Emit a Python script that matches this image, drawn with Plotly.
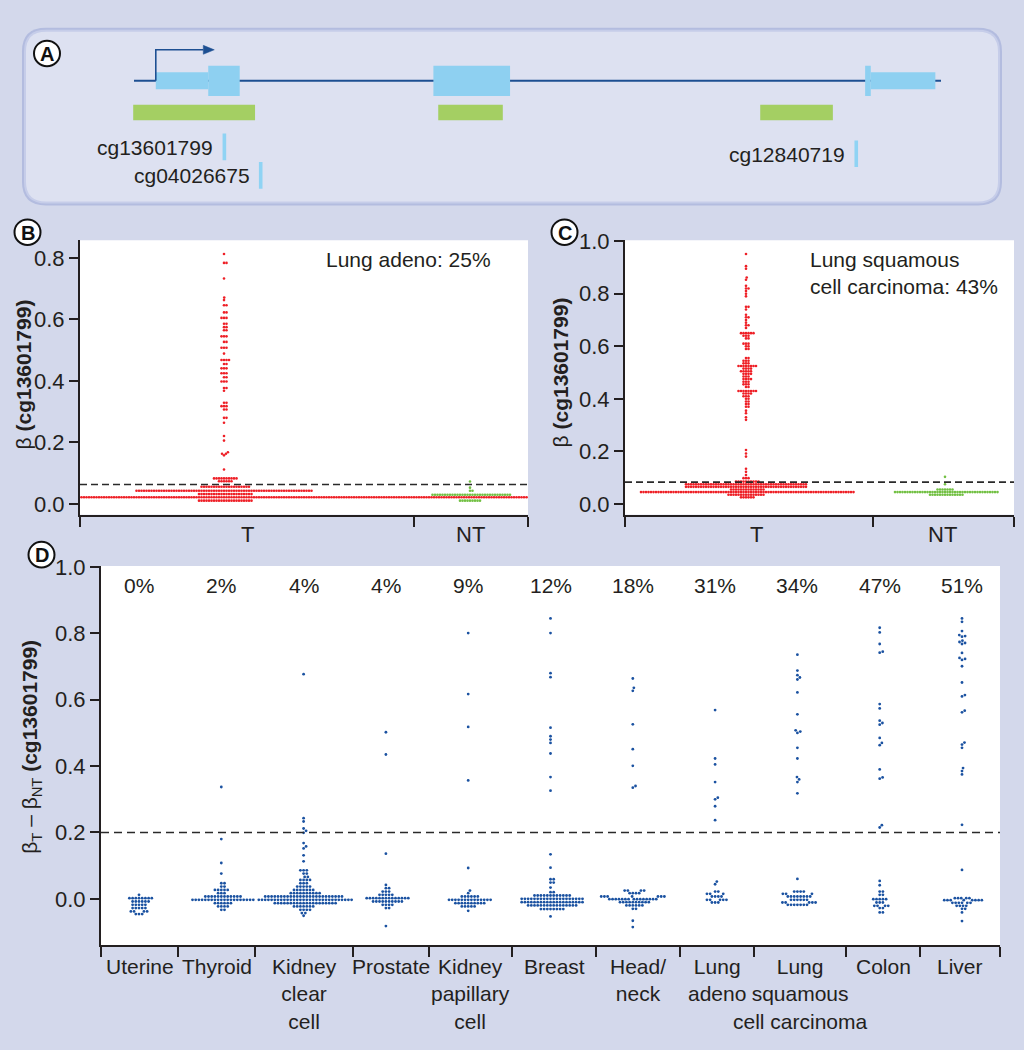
import math
import plotly.graph_objects as go

W, H = 1024, 1050

# ======================= DATA =======================
gene_span = [0.0, 100.0]
tss_position = 2.7
exon_starts = [2.7, 9.2, 37.1, 90.6, 91.3]
exon_ends = [9.2, 13.1, 46.6, 91.3, 99.3]
exon_kinds = ["utr", "cds", "cds", "cds", "utr"]
cpg_island_starts = [-0.1, 37.7, 77.6]
cpg_island_ends = [15.0, 45.7, 86.6]
probe_names = ["cg13601799", "cg04026675", "cg12840719"]
probe_positions = [11.2, 15.7, 89.5]

b_categories = ["T", "NT"]
b_tumor_high_values = [0.112, 0.158, 0.163, 0.168, 0.206, 0.221, 0.264, 0.280, 0.307, 0.318,
                       0.329, 0.368, 0.377, 0.398, 0.412, 0.425, 0.441, 0.455, 0.468, 0.489,
                       0.508, 0.527, 0.545, 0.565, 0.575, 0.586, 0.605, 0.623, 0.646, 0.663,
                       0.671, 0.733, 0.784, 0.813]
b_tumor_high_counts = [1, 1, 2, 1, 1, 1, 1, 2, 2, 3, 2, 1, 2, 3, 2, 3, 3, 2, 4, 1, 3, 2, 3, 2,
                       2, 2, 3, 2, 2, 1, 1, 1, 2, 1]
b_tumor_low_values = [0.0106, 0.0215, 0.032, 0.043, 0.056, 0.074, 0.083]
b_tumor_low_counts = [22, 250, 22, 71, 20, 6, 10]
b_normal_values = [0.0106, 0.030, 0.043, 0.053, 0.073]
b_normal_counts = [9, 32, 2, 1, 1]
b_threshold = 0.063
b_note = "Lung adeno: 25%"
b_yticks = [0.0, 0.2, 0.4, 0.6, 0.8]

c_categories = ["T", "NT"]
c_tumor_high_values = [0.110, 0.122, 0.134, 0.180, 0.192, 0.205, 0.320, 0.330, 0.345, 0.355,
                       0.370, 0.380, 0.390, 0.400, 0.410, 0.420, 0.430, 0.445, 0.455, 0.465,
                       0.475, 0.485, 0.495, 0.505, 0.515, 0.525, 0.535, 0.545, 0.555, 0.590,
                       0.600, 0.610, 0.630, 0.640, 0.650, 0.670, 0.680, 0.690, 0.700, 0.710,
                       0.720, 0.740, 0.750, 0.790, 0.800, 0.810, 0.820, 0.830, 0.853, 0.862,
                       0.895, 0.905, 0.951]
c_tumor_high_counts = [1, 1, 1, 1, 1, 1, 1, 1, 1, 1, 2, 2, 2, 2, 3, 4, 8, 2, 3, 3, 4, 3, 4, 5,
                       4, 8, 3, 3, 2, 2, 2, 3, 2, 3, 6, 1, 2, 1, 1, 2, 1, 1, 2, 1, 1, 1, 2, 1,
                       1, 1, 1, 1, 1]
c_tumor_low_values = [0.025, 0.035, 0.045, 0.055, 0.065, 0.075, 0.085, 0.098]
c_tumor_low_counts = [6, 15, 86, 14, 49, 49, 10, 3]
c_normal_values = [0.035, 0.045, 0.055, 0.075, 0.103]
c_normal_counts = [14, 42, 7, 1, 1]
c_threshold = 0.083
c_note = "Lung squamous<br>cell carcinoma: 43%"
c_yticks = [0.0, 0.2, 0.4, 0.6, 0.8, 1.0]

d_categories = ["Uterine", "Thyroid", "Kidney<br>clear<br>cell", "Prostate",
                "Kidney<br>papillary<br>cell", "Breast", "Head/<br>neck", "Lung<br>adeno",
                "Lung<br>squamous<br>cell carcinoma", "Colon", "Liver"]
d_percent = ["0%", "2%", "4%", "4%", "9%", "12%", "18%", "31%", "34%", "47%", "51%"]
d_values = [
    [0.012, 0.002, -0.008, -0.018, -0.028, -0.038, -0.046],
    [0.337, 0.180, 0.108, 0.076, 0.047, 0.037, 0.027, 0.017, 0.007, -0.003, -0.013, -0.023, -0.033],
    [0.677, 0.243, 0.233, 0.212, 0.205, 0.199, 0.168, 0.158, 0.152, 0.131, 0.113, 0.086, 0.076,
     0.066, 0.057, 0.047, 0.037, 0.027, 0.017, 0.007, -0.003, -0.013, -0.023, -0.033, -0.043, -0.051],
    [0.502, 0.435, 0.136, 0.042, 0.032, 0.022, 0.012, 0.002, -0.008, -0.018, -0.028, -0.082],
    [0.801, 0.617, 0.518, 0.357, 0.093, 0.025, 0.017, 0.007, -0.003, -0.013, -0.023, -0.036],
    [0.845, 0.801, 0.680, 0.668, 0.516, 0.490, 0.480, 0.470, 0.438, 0.367, 0.326, 0.134, 0.094,
     0.059, 0.049, 0.034, 0.020, 0.010, 0.000, -0.010, -0.020, -0.031, -0.053],
    [0.664, 0.636, 0.627, 0.526, 0.451, 0.401, 0.340, 0.335, 0.025, 0.017, 0.007, -0.001,
     -0.010, -0.020, -0.030, -0.066, -0.085],
    [0.569, 0.423, 0.405, 0.352, 0.305, 0.300, 0.279, 0.237, 0.052, 0.044, 0.022, 0.015,
     0.007, -0.003, -0.011],
    [0.736, 0.688, 0.674, 0.667, 0.661, 0.622, 0.556, 0.508, 0.504, 0.500, 0.455, 0.423,
     0.367, 0.360, 0.352, 0.318, 0.060, 0.022, 0.015, 0.007, -0.003, -0.011, -0.018],
    [0.817, 0.803, 0.768, 0.745, 0.742, 0.587, 0.574, 0.537, 0.530, 0.525, 0.485, 0.470,
     0.463, 0.390, 0.366, 0.362, 0.222, 0.215, 0.054, 0.041, 0.022, 0.012, -0.001, -0.011,
     -0.021, -0.028, -0.041],
    [0.845, 0.835, 0.807, 0.795, 0.792, 0.790, 0.778, 0.774, 0.771, 0.768, 0.741, 0.726,
     0.723, 0.720, 0.701, 0.652, 0.614, 0.610, 0.567, 0.562, 0.471, 0.465, 0.455, 0.394,
     0.385, 0.375, 0.223, 0.087, 0.002, -0.004, -0.012, -0.021, -0.030, -0.041, -0.067],
]
d_counts = [
    [1, 8, 6, 5, 5, 4, 3],
    [1, 1, 1, 1, 2, 2, 5, 3, 12, 20, 6, 4, 2],
    [1, 1, 1, 1, 1, 1, 1, 1, 1, 1, 1, 3, 2, 2, 4, 3, 5, 7, 10, 25, 30, 20, 7, 4, 2, 1],
    [1, 1, 1, 1, 2, 3, 5, 14, 10, 4, 2, 1],
    [1, 1, 1, 1, 1, 1, 1, 6, 14, 10, 5, 1],
    [1, 1, 1, 1, 1, 1, 1, 1, 1, 1, 1, 1, 1, 2, 2, 1, 2, 12, 20, 20, 16, 8, 1],
    [1, 1, 1, 1, 1, 1, 1, 1, 4, 4, 7, 15, 10, 6, 2, 1, 1],
    [1, 1, 1, 1, 1, 1, 1, 1, 1, 1, 2, 3, 4, 5, 3],
    [1, 1, 1, 1, 1, 1, 1, 1, 1, 1, 1, 1, 1, 1, 1, 1, 1, 4, 3, 8, 6, 5, 7],
    [1, 1, 1, 1, 1, 1, 1, 1, 1, 1, 1, 1, 1, 1, 1, 1, 1, 1, 1, 1, 2, 2, 5, 3, 4, 2, 2],
    [1, 1, 1, 1, 1, 1, 1, 1, 1, 1, 1, 1, 1, 1, 1, 1, 1, 1, 1, 1, 1, 1, 1, 1, 1, 1, 1, 1,
     5, 8, 6, 4, 2, 1, 1],
]
d_threshold = 0.2
d_yticks = [0.0, 0.2, 0.4, 0.6, 0.8, 1.0]

# ======================= STYLE / LAYOUT =======================
FONT = "Liberation Sans, Arial, Helvetica, sans-serif"
INK = "#231f20"
BG = "#d3d8eb"
RED = "#ee1f26"
GREEN = "#72c043"
BLUE = "#1b52a1"
EXON_BLUE = "#8ed0f1"
GENE_BLUE = "#1d4f92"
CPG_GREEN = "#a4cf63"

B_BOX = (80, 528, 232, 510)
C_BOX = (625, 1014, 232, 510)
D_BOX = (101, 1000, 562, 946)
B_RANGE = (-0.035, 0.858)
C_RANGE = (-0.041, 1.004)
D_RANGE = (-0.14, 1.003)
B_CENTERS = [224, 470]
C_CENTERS = [746, 945]
B_BOUNDS = [80, 414, 528]
C_BOUNDS = [625, 873, 1014]
B_LABEL_X = [247, 470]
C_LABEL_X = [756, 942]
D_CENTER0, D_STEP = 139, 82.3
D_BOUNDS = [101, 178, 255, 353, 429, 512, 596, 680, 754, 846, 920, 1000]
GENE_PX = (134, 941)
GENE_Y = 70.7
BC_DOT, BC_GAP = 2.6, 2.5
D_DOT, D_GAP = 2.8, 3.2


def fx(px):
    return px / W


def fy(py):
    return 1 - py / H


def expand(vals, counts):
    assert len(vals) == len(counts)
    out = []
    for v, c in zip(vals, counts):
        out += [v] * c
    return out


def swarm(values, ppu, d):
    """Beeswarm x offsets (px): each point goes to the free spot nearest the centre."""
    ys = [v * ppu for v in values]
    order = sorted(range(len(ys)), key=lambda i: ys[i])
    placed = []
    xs = [0.0] * len(ys)
    for i in order:
        y = ys[i]
        iv = []
        for px, py in placed:
            dy = abs(py - y)
            if dy < d:
                dx = math.sqrt(d * d - dy * dy)
                iv.append((px - dx, px + dx))
        x = 0.0
        if iv:
            iv.sort()
            merged = []
            for a, b in iv:
                if merged and a <= merged[-1][1] + 1e-9:
                    merged[-1][1] = max(merged[-1][1], b)
                else:
                    merged.append([a, b])
            for a, b in merged:
                if a < -1e-9 and b > 1e-9:
                    x = a if -a < b - 1e-9 else b
                    break
        placed.append((x, y))
        xs[i] = x
    return xs


fig = go.Figure()


def add_swarm(values, center, xa, ya, ppu, d, color, size):
    offs = swarm(values, ppu, d)
    fig.add_trace(go.Scatter(
        x=[center + o for o in offs], y=values, mode="markers", xaxis=xa, yaxis=ya,
        marker=dict(color=color, size=size, line=dict(width=0)),
        hoverinfo="skip", showlegend=False))


b_ppu = (B_BOX[3] - B_BOX[2]) / (B_RANGE[1] - B_RANGE[0])
c_ppu = (C_BOX[3] - C_BOX[2]) / (C_RANGE[1] - C_RANGE[0])
d_ppu = (D_BOX[3] - D_BOX[2]) / (D_RANGE[1] - D_RANGE[0])

add_swarm(expand(b_tumor_high_values, b_tumor_high_counts) + expand(b_tumor_low_values, b_tumor_low_counts),
          B_CENTERS[0], "x", "y", b_ppu, BC_GAP, RED, BC_DOT)
add_swarm(expand(b_normal_values, b_normal_counts), B_CENTERS[1], "x", "y", b_ppu, BC_GAP, GREEN, BC_DOT)
add_swarm(expand(c_tumor_high_values, c_tumor_high_counts) + expand(c_tumor_low_values, c_tumor_low_counts),
          C_CENTERS[0], "x2", "y2", c_ppu, BC_GAP, RED, BC_DOT)
add_swarm(expand(c_normal_values, c_normal_counts), C_CENTERS[1], "x2", "y2", c_ppu, BC_GAP, GREEN, BC_DOT)

dx_all, dy_all = [], []
for gi, (vals, cnts) in enumerate(zip(d_values, d_counts)):
    v = expand(vals, cnts)
    offs = swarm(v, d_ppu, D_GAP)
    c = D_CENTER0 + gi * D_STEP
    dx_all += [c + o for o in offs]
    dy_all += v
fig.add_trace(go.Scatter(x=dx_all, y=dy_all, mode="markers", xaxis="x3", yaxis="y3",
                         marker=dict(color=BLUE, size=D_DOT, line=dict(width=0)),
                         hoverinfo="skip", showlegend=False))


def xaxis_cfg(box, bounds, anchor):
    tv = [bounds[0] + 0.01] + bounds[1:-1] + [bounds[-1] - 0.01]
    return dict(domain=[fx(box[0]), fx(box[1])], range=[box[0], box[1]], anchor=anchor,
                tickmode="array", tickvals=tv, ticks="outside", ticklen=10, tickwidth=2,
                tickcolor=INK, showticklabels=False, showline=True, linecolor=INK,
                linewidth=2, showgrid=False, zeroline=False, fixedrange=True)


def yaxis_cfg(box, rng, ticks, anchor):
    return dict(domain=[fy(box[3]), fy(box[2])], range=list(rng), anchor=anchor,
                tickmode="array", tickvals=ticks, ticktext=[f"{t:.1f}" for t in ticks],
                ticks="outside", ticklen=9, tickwidth=2, tickcolor=INK, showline=True,
                linecolor=INK, linewidth=2, showgrid=False, zeroline=False,
                tickfont=dict(size=22, color=INK, family=FONT), fixedrange=True)


g_scale = (GENE_PX[1] - GENE_PX[0]) / (gene_span[1] - gene_span[0])
fig.update_layout(
    width=W, height=H, autosize=False,
    margin=dict(l=0, r=0, t=0, b=0, pad=0),
    paper_bgcolor=BG, plot_bgcolor="rgba(0,0,0,0)",
    font=dict(family=FONT, size=21, color=INK),
    showlegend=False,
    xaxis=xaxis_cfg(B_BOX, B_BOUNDS, "y"),
    yaxis=yaxis_cfg(B_BOX, B_RANGE, b_yticks, "x"),
    xaxis2=xaxis_cfg(C_BOX, C_BOUNDS, "y2"),
    yaxis2=yaxis_cfg(C_BOX, C_RANGE, c_yticks, "x2"),
    xaxis3=xaxis_cfg(D_BOX, D_BOUNDS, "y3"),
    yaxis3=yaxis_cfg(D_BOX, D_RANGE, d_yticks, "x3"),
    xaxis4=dict(domain=[0, 1], range=[gene_span[0] - GENE_PX[0] / g_scale,
                                      gene_span[0] + (W - GENE_PX[0]) / g_scale],
                visible=False, anchor="y4", fixedrange=True),
    yaxis4=dict(domain=[fy(200), 1], range=[200, 0], visible=False, anchor="x4", fixedrange=True),
)

shapes = []
annotations = []

for xa, ya in [("x", "y"), ("x2", "y2"), ("x3", "y3")]:
    shapes.append(dict(type="rect", xref=xa + " domain", yref=ya + " domain", x0=0, x1=1, y0=0, y1=1,
                       fillcolor="white", line=dict(width=0), layer="below"))

for xa, ya, box, thr, dash in [("x", "y", B_BOX, b_threshold, "7px,4px"),
                               ("x2", "y2", C_BOX, c_threshold, "7px,4px"),
                               ("x3", "y3", D_BOX, d_threshold, "8px,5px")]:
    shapes.append(dict(type="line", xref=xa, yref=ya, x0=box[0], x1=box[1], y0=thr, y1=thr,
                       line=dict(color="#2a2a2a", width=1.6, dash=dash)))


def rrect(x0, y0, x1, y1, r):
    pts = [("M", x0 + r, y0), ("L", x1 - r, y0), ("Q", x1, y0, x1, y0 + r), ("L", x1, y1 - r),
           ("Q", x1, y1, x1 - r, y1), ("L", x0 + r, y1), ("Q", x0, y1, x0, y1 - r),
           ("L", x0, y0 + r), ("Q", x0, y0, x0 + r, y0)]
    s = ""
    for p in pts:
        if p[0] == "Q":
            s += f"Q{fx(p[1]):.5f},{fy(p[2]):.5f} {fx(p[3]):.5f},{fy(p[4]):.5f} "
        else:
            s += f"{p[0]}{fx(p[1]):.5f},{fy(p[2]):.5f} "
    return s + "Z"


for inset, col in [(0, "#b3bcdf"), (2, "#c6cde9"), (4, "#dde1f1")]:
    shapes.append(dict(type="path", xref="paper", yref="paper",
                       path=rrect(22 + inset, 17 + inset, 1002 - inset, 197 - inset, 24 - inset),
                       fillcolor=col, line=dict(width=0), layer="below"))

shapes.append(dict(type="line", xref="x4", yref="y4", x0=gene_span[0], x1=gene_span[1],
                   y0=GENE_Y, y1=GENE_Y, line=dict(color=GENE_BLUE, width=2)))
half_h = {"utr": 8.6, "cds": 15.3}
for s0, s1, k in zip(exon_starts, exon_ends, exon_kinds):
    shapes.append(dict(type="rect", xref="x4", yref="y4", x0=s0, x1=s1,
                       y0=GENE_Y - half_h[k], y1=GENE_Y + half_h[k],
                       fillcolor=EXON_BLUE, line=dict(width=0)))
arrow_len = 58.5 / g_scale
head_len = 11 / g_scale
shapes.append(dict(type="path", xref="x4", yref="y4",
                   path=f"M{tss_position},{GENE_Y} L{tss_position},39.3 L{tss_position + arrow_len - head_len},39.3",
                   line=dict(color=GENE_BLUE, width=1.6)))
shapes.append(dict(type="path", xref="x4", yref="y4",
                   path=(f"M{tss_position + arrow_len - head_len},34.8 L{tss_position + arrow_len},39.3 "
                         f"L{tss_position + arrow_len - head_len},43.8 Z"),
                   fillcolor=GENE_BLUE, line=dict(color=GENE_BLUE, width=0.5)))
for s0, s1 in zip(cpg_island_starts, cpg_island_ends):
    shapes.append(dict(type="rect", xref="x4", yref="y4", x0=s0, x1=s1, y0=95, y1=110.7,
                       fillcolor=CPG_GREEN, line=dict(width=0)))
probe_top = [124, 153, 131]
bar_w = 3.6 / g_scale
for name, pos, top in zip(probe_names, probe_positions, probe_top):
    shapes.append(dict(type="rect", xref="x4", yref="y4", x0=pos - bar_w / 2, x1=pos + bar_w / 2,
                       y0=top, y1=top + 27, fillcolor="#8fd3f4", line=dict(width=0)))
    annotations.append(dict(xref="x4", yref="y4", x=pos, y=top + 14, xshift=-9, text=name,
                            showarrow=False, xanchor="right", yanchor="middle",
                            font=dict(size=21, color=INK)))

for letter, cx, cy in [("A", 47, 43), ("B", 27.5, 224), ("C", 564.5, 224), ("D", 41.5, 550.5)]:
    r = 13
    shapes.append(dict(type="circle", xref="paper", yref="paper", x0=fx(cx - r), x1=fx(cx + r),
                       y0=fy(cy + r), y1=fy(cy - r), fillcolor="white", line=dict(color="#111", width=2)))
    annotations.append(dict(xref="paper", yref="paper", x=fx(cx), y=fy(cy + 0.5), text=f"<b>{letter}</b>",
                            showarrow=False, xanchor="center", yanchor="middle",
                            font=dict(size=20, color="#111")))

for labels, xs in [(b_categories, B_LABEL_X), (c_categories, C_LABEL_X)]:
    for lab, x in zip(labels, xs):
        annotations.append(dict(xref="paper", yref="paper", x=fx(x), y=fy(515), text=lab,
                                showarrow=False, xanchor="center", yanchor="top",
                                font=dict(size=22, color=INK)))
for i, lab in enumerate(d_categories):
    mid = (D_BOUNDS[i] + D_BOUNDS[i + 1]) / 2
    annotations.append(dict(xref="paper", yref="paper", x=fx(mid), y=fy(954), text=lab,
                            showarrow=False, xanchor="center", yanchor="top", align="center",
                            font=dict(size=21, color=INK)))
for i, p in enumerate(d_percent):
    annotations.append(dict(xref="x3", yref="paper", x=D_CENTER0 + i * D_STEP, y=fy(582), text=p,
                            showarrow=False, xanchor="center", yanchor="middle",
                            font=dict(size=21, color=INK)))

annotations.append(dict(xref="paper", yref="paper", x=fx(493), y=fy(252), text=b_note,
                        showarrow=False, xanchor="right", yanchor="middle", font=dict(size=21, color=INK)))
annotations.append(dict(xref="paper", yref="paper", x=fx(808), y=fy(265), text=c_note, align="left",
                        showarrow=False, xanchor="left", yanchor="middle", font=dict(size=21, color=INK)))

for x, y, txt in [(23, 368, "β <b>(cg13601799)</b>"), (560, 366, "β <b>(cg13601799)</b>"),
                  (31, 745, "β<sub>T</sub> – β<sub>NT</sub> <b>(cg13601799)</b>")]:
    annotations.append(dict(xref="paper", yref="paper", x=fx(x), y=fy(y), text=txt, textangle=-90,
                            showarrow=False, xanchor="center", yanchor="middle",
                            font=dict(size=21, color=INK)))

fig.update_layout(shapes=shapes, annotations=annotations)

PIN_SCRIPT = ("document.documentElement.style.margin='0';document.documentElement.style.padding='0';"
              "document.documentElement.style.overflow='hidden';"
              "document.body.style.margin='0';document.body.style.padding='0';"
              "document.body.style.overflow='hidden';"
              "var gd=document.getElementById('{plot_id}');"
              "gd.style.position='absolute';gd.style.left='0px';gd.style.top='0px';")
fig.write_html("out.html", config={"displayModeBar": False}, post_script=PIN_SCRIPT)
